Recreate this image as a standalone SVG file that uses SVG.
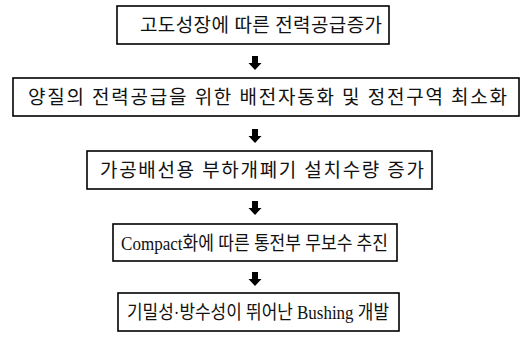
<svg xmlns="http://www.w3.org/2000/svg" width="525" height="339" viewBox="0 0 525 339">
<defs>
<style>
.box{fill:#fff;stroke:#000;stroke-width:1.6}
.t{font-family:"Liberation Serif","Noto Sans CJK KR",serif;font-size:19px;fill:#111;dominant-baseline:central}
.arr{fill:#000}
</style>
<path id="ar" d="M-3,0 H3 V7 H6.5 L0,14 L-6.5,7 H-3 Z"/>
</defs>
<rect width="525" height="339" fill="#fff"/>
<g id="n1"><rect class="box" x="117" y="6" width="272" height="38"/><text class="t" x="140" y="25" textLength="242" lengthAdjust="spacing">고도성장에 따른 전력공급증가</text></g>
<g id="n2"><rect class="box" x="13" y="78" width="506" height="38"/><text class="t" x="28" y="97" textLength="479" lengthAdjust="spacing">양질의 전력공급을 위한 배전자동화 및 정전구역 최소화</text></g>
<g id="n3"><rect class="box" x="87" y="151" width="345" height="38"/><text class="t" x="100" y="170" textLength="324" lengthAdjust="spacing">가공배선용 부하개폐기 설치수량 증가</text></g>
<g id="n4"><rect class="box" x="113" y="224" width="284" height="37"/><text class="t" x="121" y="243" textLength="267" lengthAdjust="spacingAndGlyphs">Compact화에 따른 통전부 무보수 추진</text></g>
<g id="n5"><rect class="box" x="118" y="293" width="281" height="38"/><text class="t" x="127" y="312" textLength="262" lengthAdjust="spacingAndGlyphs">기밀성·방수성이 뛰어난 Bushing 개발</text></g>
<g id="connectors">
<use href="#ar" class="arr" x="255" y="56"/>
<use href="#ar" class="arr" x="255" y="129"/>
<use href="#ar" class="arr" x="255" y="201"/>
<use href="#ar" class="arr" x="255" y="272"/>
</g>
</svg>
